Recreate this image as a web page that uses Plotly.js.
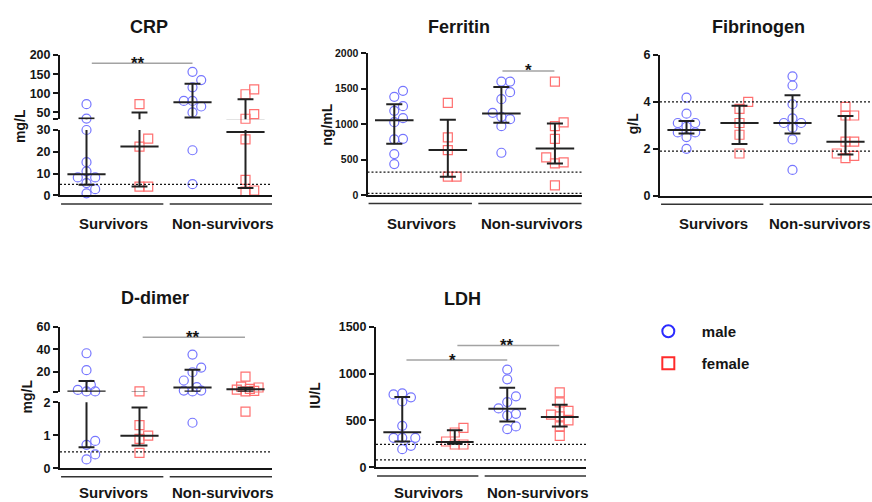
<!DOCTYPE html>
<html><head><meta charset="utf-8">
<script src="https://cdn.plot.ly/plotly-3.0.1.min.js"></script>
<style>html,body{margin:0;padding:0;background:#fff}#chart{width:872px;height:502px}</style>
</head><body><div id="chart"></div>
<script>
// ---------------- DATA ----------------
const groupLabels = ['Survivors', 'Non-survivors'];
const sexLabels = ['male', 'female'];

// CRP (mg/L)
const crpMaleSurv   = [71.5, 34, 30, 15.2, 11, 8.2, 8.2, 5.6, 2.8, 0.9];
const crpFemaleSurv = [71.5, 26, 22.4, 4, 4];
const crpMaleNon    = [156, 134.5, 115.5, 80, 80, 65.5, 50, 20.7, 5.1];
const crpFemaleNon  = [110, 97.4, 45.7, 33.5, 25.7, 7.1, 2.2, 1.7];
const crpMedian = [9.7, 22.4, 76.7, 29.1];
const crpQ1     = [4.8, 4.0, 37, 3.3];
const crpQ3     = [34, 50, 125, 84.5];
const crpRef = [5];
const crpLowerTicks = [0, 10, 20, 30];
const crpUpperTicks = [32, 50, 100, 150, 200];
const crpUpperLabels = ['', '50', '100', '150', '200'];

// Ferritin (ng/mL)
const ferMaleSurv   = [1470, 1385, 1254, 1188, 1085, 1028, 793, 784, 577, 437];
const ferFemaleSurv = [1300, 812, 634, 258, 258];
const ferMaleNon    = [1601, 1601, 1451, 1352, 1160, 1103, 1070, 972, 596];
const ferFemaleNon  = [1601, 1024, 972, 793, 530, 460, 446, 136];
const ferMedian = [1056, 634, 1150, 657];
const ferQ1     = [723, 258, 1019, 446];
const ferQ3     = [1282, 1061, 1526, 1009];
const ferRef = [322, 24];
const ferTicks = [0, 500, 1000, 1500, 2000];

// Fibrinogen (g/L)
const fibMaleSurv   = [4.18, 3.5, 3.1, 3.1, 2.94, 2.7, 2.7, 2.5, 2.0];
const fibFemaleSurv = [4.0, 3.7, 3.1, 2.6, 1.8];
const fibMaleNon    = [5.09, 4.7, 3.9, 3.3, 3.1, 3.1, 2.9, 2.4, 1.1];
const fibFemaleNon  = [3.79, 3.42, 3.42, 2.31, 2.31, 1.8, 1.7, 1.6];
const fibMedian = [2.8, 3.1, 3.1, 2.3];
const fibQ1     = [2.65, 2.2, 2.65, 1.76];
const fibQ3     = [3.19, 3.84, 4.28, 3.4];
const fibRef = [4, 1.9];
const fibTicks = [0, 2, 4, 6];

// D-dimer (mg/L)
const ddMaleSurv   = [36.5, 21.5, 8.5, 4.1, 2.7, 2.7, 0.83, 0.71, 0.42, 0.27];
const ddFemaleSurv = [2.7, 1.31, 0.99, 0.89, 0.47];
const ddMaleNon    = [35.3, 23.8, 19.7, 12.4, 6.5, 3.5, 3.5, 2.7, 1.38];
const ddFemaleNon  = [15.9, 7.0, 6.2, 5.0, 4.4, 3.2, 2.7, 1.72];
const ddMedian = [2.7, 0.99, 6.2, 4.7];
const ddQ1     = [0.64, 0.69, 2.7, 2.7];
const ddQ3     = [12, 1.84, 22, 6.1];
const ddRef = [0.5];
const ddLowerTicks = [0, 1, 2];
const ddUpperTicks = [2.5, 20, 40, 60];
const ddUpperLabels = ['', '20', '40', '60'];

// LDH (IU/L)
const ldhMaleSurv   = [789, 778, 746, 703, 443, 314, 314, 314, 229, 193];
const ldhFemaleSurv = [421, 371, 275, 243, 243];
const ldhMaleNon    = [1043, 939, 757, 696, 628, 571, 553, 436, 407];
const ldhFemaleNon  = [800, 693, 603, 561, 543, 500, 436, 336];
const ldhMedian = [375, 271, 625, 536];
const ldhQ1     = [275, 252, 489, 436];
const ldhQ3     = [750, 396, 850, 668];
const ldhRef = [245, 80];
const ldhTicks = [0, 500, 1000, 1500];

// ---------------- STYLE / GEOMETRY ----------------
const W = 872, H = 502;
const FONT = 'Liberation Sans, Arial, Helvetica, sans-serif';
const INK = '#151515';
const MALE = '#7676ff', FEMALE = '#ff7070';

const panels = [
  {title:'CRP', unit:'mg/L', xa:'x', xpx:[60,272],
   series:[crpMaleSurv, crpFemaleSurv, crpMaleNon, crpFemaleNon], med:crpMedian, q1:crpQ1, q3:crpQ3, refs:crpRef, refSeg:0,
   segs:[{ya:'y', range:[0,30], px:[130,195.3], ticks:crpLowerTicks, labels:crpLowerTicks.map(String)},
         {ya:'y2', range:[32,200], px:[55,119.3], ticks:crpUpperTicks, labels:crpUpperLabels}],
   tickSize:12.5, titlePos:[149,27], unitPos:[20,126], groupY:223, lineY:204, groupX:[1.5, 3.58],
   sig:[{x0:1.1, x1:3.0, y:178.4, text:'**', tx:1.97, seg:1}]},
  {title:'Ferritin', unit:'ng/mL', xa:'x2', xpx:[367.5,581.7],
   series:[ferMaleSurv, ferFemaleSurv, ferMaleNon, ferFemaleNon], med:ferMedian, q1:ferQ1, q3:ferQ3, refs:ferRef, refSeg:0,
   segs:[{ya:'y3', range:[0,2000], px:[53.3,195], ticks:ferTicks, labels:ferTicks.map(String)}],
   tickSize:10.5, titlePos:[459.3,27], unitPos:[326.7,125], groupY:223, lineY:203.5, groupX:[1.5, 3.58],
   sig:[{x0:3.02, x1:3.99, y:1751, text:'*', tx:3.51, seg:0}]},
  {title:'Fibrinogen', unit:'g/L', xa:'x3', xpx:[660,872],
   series:[fibMaleSurv, fibFemaleSurv, fibMaleNon, fibFemaleNon], med:fibMedian, q1:fibQ1, q3:fibQ3, refs:fibRef, refSeg:0,
   segs:[{ya:'y4', range:[0,6], px:[55,195.7], ticks:fibTicks, labels:fibTicks.map(String)}],
   tickSize:12.5, titlePos:[758.3,27], unitPos:[633.3,124], groupY:223, lineY:204.3, groupX:[1.5, 3.52],
   sig:[]},
  {title:'D-dimer', unit:'mg/L', xa:'x4', xpx:[60,272],
   series:[ddMaleSurv, ddFemaleSurv, ddMaleNon, ddFemaleNon], med:ddMedian, q1:ddQ1, q3:ddQ3, refs:ddRef, refSeg:0,
   segs:[{ya:'y5', range:[0,2], px:[402.3,468.3], ticks:ddLowerTicks, labels:ddLowerTicks.map(String)},
         {ya:'y6', range:[2.5,60], px:[326.7,391.7], ticks:ddUpperTicks, labels:ddUpperLabels}],
   tickSize:12.5, titlePos:[155,298], unitPos:[26.7,396.7], groupY:492, lineY:476.7, groupX:[1.5, 3.58],
   sig:[{x0:2.06, x1:3.99, y:50.6, text:'**', tx:3.0, seg:1}]},
  {title:'LDH', unit:'IU/L', xa:'x5', xpx:[376,586],
   series:[ldhMaleSurv, ldhFemaleSurv, ldhMaleNon, ldhFemaleNon], med:ldhMedian, q1:ldhQ1, q3:ldhQ3, refs:ldhRef, refSeg:0,
   segs:[{ya:'y7', range:[0,1500], px:[326.7,467.3], ticks:ldhTicks, labels:ldhTicks.map(String)}],
   tickSize:12.5, titlePos:[462.3,299.3], unitPos:[315,395.7], groupY:492, lineY:476, groupX:[1.5, 3.58],
   sig:[{x0:1.08, x1:3.0, y:1144, text:'*', tx:1.96, seg:0},
        {x0:2.05, x1:3.99, y:1300, text:'**', tx:3.0, seg:0}]}
];

function axKey(id){ return id[0] + 'axis' + id.slice(1); }

const layout = {
  width: W, height: H, margin:{l:0, r:0, t:0, b:0},
  paper_bgcolor:'#ffffff', plot_bgcolor:'rgba(0,0,0,0)',
  hovermode:false, showlegend:true,
  font:{family:FONT, color:INK},
  shapes:[], annotations:[],
  legend:{x:0.728, y:0.3726, xanchor:'left', yanchor:'top', bgcolor:'rgba(0,0,0,0)',
          font:{family:FONT, size:15, weight:'bold', color:INK},
          itemwidth:57, tracegroupgap:9.5, traceorder:'grouped'}
};
const traces = [];

function segFor(p, v){
  let best = p.segs[0], bestD = Infinity;
  p.segs.forEach(s => {
    const d = v < s.range[0] ? s.range[0]-v : (v > s.range[1] ? v - s.range[1] : 0);
    if (d < bestD) { bestD = d; best = s; }
  });
  return best;
}
function toPx(p, v){
  const s = segFor(p, v);
  return s.px[0] + (s.range[1]-v)/(s.range[1]-s.range[0])*(s.px[1]-s.px[0]);
}
// simple beeswarm (pixel based) to spread overlapping points, limited width
function swarm(p, vals, center){
  const pxPerUnit = (p.xpx[1]-p.xpx[0]) / 4;
  const slotPx = 8.7, minD = 8.2;
  const order = [0, 1, -1, 0.5, -0.5, 1.5, -1.5];
  const idx = vals.map((v,i)=>i).sort((a,b)=>vals[a]-vals[b]);
  const placed = [], xs = new Array(vals.length);
  idx.forEach(i => {
    const py = toPx(p, vals[i]);
    let bestK = 0, bestD = -1, chosen = null;
    for (const k of order) {
      const px = k*slotPx;
      const d = placed.length ? Math.min(...placed.map(q => Math.hypot(q[0]-px, q[1]-py))) : Infinity;
      if (d >= minD) { chosen = k; break; }
      if (d > bestD) { bestD = d; bestK = k; }
    }
    if (chosen === null) chosen = bestK;
    placed.push([chosen*slotPx, py]);
    xs[i] = center + chosen*slotPx/pxPerUnit;
  });
  return xs;
}

panels.forEach(p => {
  const xk = axKey(p.xa);
  layout[xk] = {
    domain:[p.xpx[0]/W, p.xpx[1]/W], range:[0.5, 4.5], anchor:p.segs[0].ya,
    showline:true, linewidth:2, linecolor:INK, ticks:'', showticklabels:false,
    showgrid:false, zeroline:false, fixedrange:true
  };
  p.segs.forEach(s => {
    layout[axKey(s.ya)] = {
      domain:[1 - s.px[1]/H, 1 - s.px[0]/H], range:s.range, anchor:p.xa,
      tickmode:'array', tickvals:s.ticks, ticktext:s.labels,
      ticks:'outside', ticklen:5, tickwidth:2, tickcolor:INK,
      showline:true, linewidth:2, linecolor:INK, showgrid:false, zeroline:false,
      tickfont:{family:FONT, size:p.tickSize, weight:'bold', color:INK}, fixedrange:true
    };
  });

  // points
  p.series.forEach((vals, g) => {
    const center = g + 1;
    const xs = swarm(p, vals, center);
    const male = (g % 2 === 0);
    p.segs.forEach(s => {
      const ix = vals.map((v,i)=>i).filter(i => segFor(p, vals[i]) === s);
      if (!ix.length) return;
      traces.push({
        type:'scatter', mode:'markers', xaxis:p.xa, yaxis:s.ya, showlegend:false, cliponaxis:false,
        x: ix.map(i => xs[i]), y: ix.map(i => vals[i]),
        marker:{symbol: male ? 'circle' : 'square', size:9, color:'rgba(255,255,255,0)',
                line:{color: male ? MALE : FEMALE, width:1.2}}
      });
    });
  });

  // median + interquartile range
  p.segs.forEach(s => {
    const x = [], y = [];
    p.med.forEach((m, g) => {
      const c = g + 1, cap = 0.15, half = 0.36;
      x.push(c-cap, c+cap, null, c, c, null, c-cap, c+cap, null, c-half, c+half, null);
      y.push(p.q3[g], p.q3[g], null, p.q1[g], p.q3[g], null, p.q1[g], p.q1[g], null, m, m, null);
    });
    traces.push({type:'scatter', mode:'lines', xaxis:p.xa, yaxis:s.ya, showlegend:false,
                 x:x, y:y, line:{color:'#222', width:2}});
  });

  // reference (dotted) lines
  const rs = p.segs[p.refSeg];
  p.refs.forEach(v => {
    layout.shapes.push({type:'line', xref:p.xa + ' domain', yref:rs.ya, x0:0, x1:1, y0:v, y1:v,
                        line:{color:INK, width:1.3, dash:'2px,2px'}});
  });

  // group underlines
  [[0.52, 2.45], [2.57, 4.5]].forEach(([a,b]) => {
    layout.shapes.push({type:'line', xref:p.xa, yref:'paper', x0:a, x1:b, y0:1-p.lineY/H, y1:1-p.lineY/H,
                        line:{color:'#333', width:1.5}});
  });
  // group labels
  p.groupX.forEach((gx, k) => {
    layout.annotations.push({xref:p.xa, yref:'paper', x:gx, y:1-p.groupY/H, text:groupLabels[k],
      showarrow:false, xanchor:'center', yanchor:'middle', borderpad:0,
      font:{family:FONT, size:15, weight:'bold', color:INK}});
  });
  // panel title
  layout.annotations.push({xref:'paper', yref:'paper', x:p.titlePos[0]/W, y:1-p.titlePos[1]/H, text:p.title,
    showarrow:false, xanchor:'center', yanchor:'middle', font:{family:FONT, size:18, weight:'bold', color:INK}});
  // unit label
  layout.annotations.push({xref:'paper', yref:'paper', x:p.unitPos[0]/W, y:1-p.unitPos[1]/H, text:p.unit,
    textangle:-90, showarrow:false, xanchor:'center', yanchor:'middle',
    font:{family:FONT, size:14, weight:'bold', color:INK}});
  // significance bars
  p.sig.forEach(sg => {
    const ya = p.segs[sg.seg].ya;
    layout.shapes.push({type:'line', xref:p.xa, yref:ya, x0:sg.x0, x1:sg.x1, y0:sg.y, y1:sg.y,
                        line:{color:'#a3a3a3', width:1.5}});
    layout.annotations.push({xref:p.xa, yref:ya, x:sg.tx, y:sg.y, text:sg.text, showarrow:false,
      xanchor:'center', yanchor:'middle', font:{family:FONT, size:17, weight:'bold', color:INK}});
  });
});

// legend entries
traces.push({type:'scatter', mode:'markers', x:[null], y:[null], xaxis:'x', yaxis:'y', name:sexLabels[0],
  legendgroup:'m', showlegend:true,
  marker:{symbol:'circle', size:12, color:'rgba(255,255,255,0)', line:{color:'#2b2bff', width:2}}});
traces.push({type:'scatter', mode:'markers', x:[null], y:[null], xaxis:'x', yaxis:'y', name:sexLabels[1],
  legendgroup:'f', showlegend:true,
  marker:{symbol:'square', size:12, color:'rgba(255,255,255,0)', line:{color:'#ff2b2b', width:2}}});

Plotly.newPlot('chart', traces, layout, {staticPlot:true, displayModeBar:false});
</script>
</body></html>
